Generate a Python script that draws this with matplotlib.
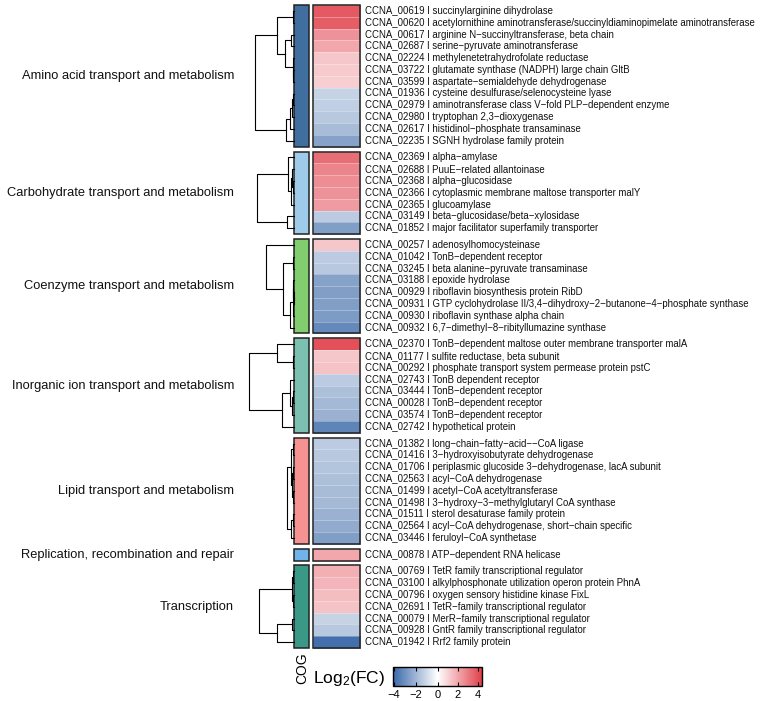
import numpy as np
import matplotlib
matplotlib.use("Agg")
import matplotlib.pyplot as plt
from matplotlib.colors import LinearSegmentedColormap, TwoSlopeNorm
from matplotlib.patches import Rectangle
from matplotlib.cm import ScalarMappable

plt.rcParams['font.family'] = ['Liberation Sans', 'DejaVu Sans']
plt.rcParams['mathtext.default'] = 'regular'

# COG categories and their colours
groups = ["Amino acid transport and metabolism",
          "Carbohydrate transport and metabolism",
          "Coenzyme transport and metabolism",
          "Inorganic ion transport and metabolism",
          "Lipid transport and metabolism",
          "Replication, recombination and repair",
          "Transcription"]
group_colors = ["#3f6e9f", "#9fcbea", "#82cd6e", "#7cc0b2", "#f79292", "#6fb5ea", "#3a9886"]

amino_genes = ["CCNA_00619 I succinylarginine dihydrolase",
               "CCNA_00620 I acetylornithine aminotransferase/succinyldiaminopimelate aminotransferase",
               "CCNA_00617 I arginine N−succinyltransferase, beta chain",
               "CCNA_02687 I serine−pyruvate aminotransferase",
               "CCNA_02224 I methylenetetrahydrofolate reductase",
               "CCNA_03722 I glutamate synthase (NADPH) large chain GltB",
               "CCNA_03599 I aspartate−semialdehyde dehydrogenase",
               "CCNA_01936 I cysteine desulfurase/selenocysteine lyase",
               "CCNA_02979 I aminotransferase class V−fold PLP−dependent enzyme",
               "CCNA_02980 I tryptophan 2,3−dioxygenase",
               "CCNA_02617 I histidinol−phosphate transaminase",
               "CCNA_02235 I SGNH hydrolase family protein"]
amino_fc = [3.8, 3.7, 2.5, 2.0, 1.3, 1.2, 1.1, -1.2, -1.3, -1.5, -1.8, -2.5]

carb_genes = ["CCNA_02369 I alpha−amylase",
              "CCNA_02688 I PuuE−related allantoinase",
              "CCNA_02368 I alpha−glucosidase",
              "CCNA_02366 I cytoplasmic membrane maltose transporter malY",
              "CCNA_02365 I glucoamylase",
              "CCNA_03149 I beta−glucosidase/beta−xylosidase",
              "CCNA_01852 I major facilitator superfamily transporter"]
carb_fc = [3.3, 2.8, 2.6, 2.5, 2.3, -1.4, -2.6]

coenz_genes = ["CCNA_00257 I adenosylhomocysteinase",
               "CCNA_01042 I TonB−dependent receptor",
               "CCNA_03245 I beta alanine−pyruvate transaminase",
               "CCNA_03188 I epoxide hydrolase",
               "CCNA_00929 I riboflavin biosynthesis protein RibD",
               "CCNA_00931 I GTP cyclohydrolase II/3,4−dihydroxy−2−butanone−4−phosphate synthase",
               "CCNA_00930 I riboflavin synthase alpha chain",
               "CCNA_00932 I 6,7−dimethyl−8−ribityllumazine synthase"]
coenz_fc = [1.3, -1.4, -1.5, -2.5, -2.6, -2.6, -2.7, -3.2]

inorg_genes = ["CCNA_02370 I TonB−dependent maltose outer membrane transporter malA",
               "CCNA_01177 I sulfite reductase, beta subunit",
               "CCNA_00292 I phosphate transport system permease protein pstC",
               "CCNA_02743 I TonB dependent receptor",
               "CCNA_03444 I TonB−dependent receptor",
               "CCNA_00028 I TonB−dependent receptor",
               "CCNA_03574 I TonB−dependent receptor",
               "CCNA_02742 I hypothetical protein"]
inorg_fc = [4.0, 1.3, 1.4, -1.4, -1.7, -1.9, -2.1, -3.3]

lipid_genes = ["CCNA_01382 I long−chain−fatty−acid−−CoA ligase",
               "CCNA_01416 I 3−hydroxyisobutyrate dehydrogenase",
               "CCNA_01706 I periplasmic glucoside 3−dehydrogenase, lacA subunit",
               "CCNA_02563 I acyl−CoA dehydrogenase",
               "CCNA_01499 I acetyl−CoA acetyltransferase",
               "CCNA_01498 I 3−hydroxy−3−methylglutaryl CoA synthase",
               "CCNA_01511 I sterol desaturase family protein",
               "CCNA_02564 I acyl−CoA dehydrogenase, short−chain specific",
               "CCNA_03446 I feruloyl−CoA synthetase"]
lipid_fc = [-1.4, -1.5, -1.6, -1.7, -1.8, -1.9, -2.1, -2.3, -2.6]

repl_genes = ["CCNA_00878 I ATP−dependent RNA helicase"]
repl_fc = [2.0]

trans_genes = ["CCNA_00769 I TetR family transcriptional regulator",
               "CCNA_03100 I alkylphosphonate utilization operon protein PhnA",
               "CCNA_00796 I oxygen sensory histidine kinase FixL",
               "CCNA_02691 I TetR−family transcriptional regulator",
               "CCNA_00079 I MerR−family transcriptional regulator",
               "CCNA_00928 I GntR family transcriptional regulator",
               "CCNA_01942 I Rrf2 family protein"]
trans_fc = [1.8, 1.7, 1.5, 1.4, -1.2, -1.5, -3.9]

all_genes = [amino_genes, carb_genes, coenz_genes, inorg_genes, lipid_genes, repl_genes, trans_genes]
all_fc = [amino_fc, carb_fc, coenz_fc, inorg_fc, lipid_fc, repl_fc, trans_fc]

cmap = LinearSegmentedColormap.from_list("bwr2", ["#3a68a8", "#ffffff", "#e0404a"])
norm = TwoSlopeNorm(vmin=-4.1, vcenter=0, vmax=4.4)

W, H = 767, 701
fig = plt.figure(figsize=(W / 100, H / 100), dpi=100)
ax = fig.add_axes([0, 0, 1, 1])
ax.set_xlim(0, W)
ax.set_ylim(H, 0)
ax.axis('off')

row_h = 11.8
gap = 4.9
top = 5
hm_x0, hm_x1 = 313, 360
cog_x0, cog_x1 = 294, 309
dend_scale = 6.2  # px per log2FC unit


def draw_dendrogram(vals, ys):
    # complete linkage, merging neighbouring clusters only
    clusters = [{'m': [v], 'y': y, 'h': 0.0} for v, y in zip(vals, ys)]
    while len(clusters) > 1:
        best, best_d = 0, None
        for i in range(len(clusters) - 1):
            a, b = clusters[i]['m'], clusters[i + 1]['m']
            d = max(abs(p - q) for p in a for q in b)
            if best_d is None or d < best_d:
                best, best_d = i, d
        c1, c2 = clusters[best], clusters[best + 1]
        xh = cog_x0 - best_d * dend_scale
        ax.plot([cog_x0 - c1['h'] * dend_scale, xh, xh, cog_x0 - c2['h'] * dend_scale],
                [c1['y'], c1['y'], c2['y'], c2['y']], color='black', lw=0.8)
        merged = {'m': c1['m'] + c2['m'], 'y': (c1['y'] + c2['y']) / 2, 'h': best_d}
        clusters[best:best + 2] = [merged]


y = top
for name, col, genes, fc in zip(groups, group_colors, all_genes, all_fc):
    n = len(fc)
    y_edges = y + np.arange(n + 1) * row_h
    ax.pcolormesh([hm_x0, hm_x1], y_edges, np.array(fc).reshape(-1, 1), cmap=cmap, norm=norm,
                  edgecolors=(1, 1, 1, 0.3), linewidth=0.4)
    ax.add_patch(Rectangle((hm_x0, y), hm_x1 - hm_x0, n * row_h, fill=False, ec='#222222', lw=1.1))
    ax.add_patch(Rectangle((cog_x0, y), cog_x1 - cog_x0, n * row_h, fc=col, ec='#222222', lw=1.1))
    centers = y + (np.arange(n) + 0.5) * row_h
    for g, cy in zip(genes, centers):
        ax.text(365, cy, g, fontsize=6.9, va='center', ha='left', color='#111111')
    ax.text(234, y + n * row_h / 2, name, fontsize=9.3, va='center', ha='right', color='#111111')
    if n > 1:
        draw_dendrogram(fc, centers)
    y += n * row_h + gap

ax.text(302, 668, "COG", rotation=90, fontsize=10, va='center', ha='center')
ax.text(313, 679, "Log$_2$(FC)", fontsize=12.5, va='center', ha='left')

cax = fig.add_axes([393 / W, 1 - 686 / H, 89 / W, 19 / H])
sm = ScalarMappable(norm=norm, cmap=cmap)
cb = fig.colorbar(sm, cax=cax, orientation='horizontal')
cb.ax.set_xlim(-4.1, 4.4)
cb.set_ticks([-4, -2, 0, 2, 4])
cb.set_ticklabels(["−4", "−2", "0", "2", "4"])
cb.ax.tick_params(axis='x', direction='in', length=3, width=0.8, labelsize=8, pad=3,
                  top=True, bottom=True)
cb.outline.set_linewidth(1.0)

fig.savefig("out.png", dpi=100)
